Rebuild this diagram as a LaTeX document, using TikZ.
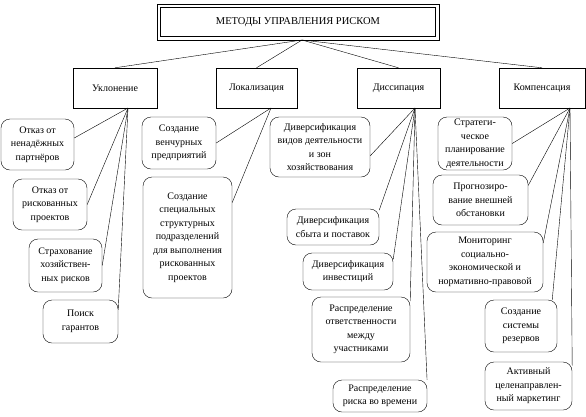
\documentclass[tikz,border=0pt]{standalone}
\usepackage{fontspec}
\setmainfont{Liberation Serif}
\begin{document}
\begin{tikzpicture}[x=1pt,y=-1pt,font=\fontsize{10}{13.5}\selectfont,
    groupbox/.style={draw,align=center,inner sep=0pt,minimum height=40pt},
    leafbox/.style={draw,rounded corners=9pt,align=center,inner sep=0pt}]
    \useasboundingbox (0,0) rectangle (586,416);
    % Title
    \node[draw,minimum width=275pt,minimum height=29pt,font=\fontsize{10.5}{13.5}\selectfont](title) at (298,22) {МЕТОДЫ УПРАВЛЕНИЯ РИСКОМ};
    \draw([shift={(-3.5pt,3.5pt)}]title.north west) rectangle ([shift={(3.5pt,-3.5pt)}]title.south east);
    % Methods
    \node[groupbox,minimum width=84pt](ukl) at (115,88) {Уклонение};
    \node[groupbox,minimum width=81pt](lok) at (256.5,88) {Локализация};
    \node[groupbox,minimum width=83pt](dis) at (398.5,88) {Диссипация};
    \node[groupbox,minimum width=86pt](komp) at (542,88) {Компенсация};
    \coordinate(title-b) at (302,40);
    \draw(title-b)--(ukl.north);
    \draw(title-b)--(lok.north);
    \draw(title-b)--(dis.north);
    \draw(title-b)--(komp.north);
    % Bundle roots
    \coordinate(ukl-b) at (128,108);
    \coordinate(lok-b) at (271,108);
    \coordinate(dis-b) at (415,108);
    \coordinate(komp-b) at (570,108);
    % Avoidance
    \node[leafbox,minimum width=73pt,minimum height=51pt](otk1) at (37.5,144.5) {Отказ от\\ненадёжных\\партнёров};
    \node[leafbox,minimum width=74pt,minimum height=51pt](otk2) at (50,204.5) {Отказ от\\рискованных\\проектов};
    \node[leafbox,minimum width=73pt,minimum height=53pt](strah) at (65.5,265.5) {Страхование\\хозяйствен-\\ных рисков};
    \node[leafbox,minimum width=75pt,minimum height=43pt](poisk) at (80.5,321.5) {Поиск\\гарантов};
    \draw(ukl-b)--(otk1.10);
    \draw(ukl-b)--(otk2.east);
    \draw(ukl-b)--(strah.east);
    \draw(ukl-b)--(poisk.17);
    % Localisation
    \node[leafbox,minimum width=74pt,minimum height=52pt](ven) at (179,143) {Создание\\венчурных\\предприятий};
    \node[leafbox,minimum width=89pt,minimum height=121pt](spec) at (187.5,237.5) {Создание\\специальных\\структурных\\подразделений\\для выполнения\\рискованных\\проектов};
    \draw(lok-b)--(ven.east);
    \draw(lok-b)--(spec.38);
    % Dissipation
    \node[leafbox,minimum width=100pt,minimum height=60pt](div1) at (320,147) {Диверсификация\\видов деятельности\\и зон\\хозяйствования};
    \node[leafbox,minimum width=92pt,minimum height=36pt](div2) at (333,227) {Диверсификация\\сбыта и поставок};
    \node[leafbox,minimum width=90pt,minimum height=37pt](div3) at (348,271.5) {Диверсификация\\инвестиций};
    \node[leafbox,minimum width=98pt,minimum height=65pt](rsp1) at (361,329.5) {Распределение\\ответственности\\между\\участниками};
    \node[leafbox,minimum width=94pt,minimum height=32pt](rsp2) at (380,396) {Распределение\\риска во времени};
    \draw(dis-b)--(div1.-10);
    \draw(dis-b)--(div2.20);
    \draw(dis-b)--(div3.15);
    \draw(dis-b)--(rsp1.30);
    \draw(dis-b)--(rsp2.19);
    % Compensation
    \node[leafbox,minimum width=74pt,minimum height=53pt](strat) at (475,143.5) {Стратеги-\\ческое\\планирование\\деятельности};
    \node[leafbox,minimum width=95pt,minimum height=50pt](prog) at (480.5,200) {Прогнозиро-\\вание внешней\\обстановки};
    \node[leafbox,minimum width=116pt,minimum height=60pt](monit) at (485,262) {Мониторинг\\социально-\\экономической и\\нормативно-правовой};
    \node[leafbox,minimum width=72pt,minimum height=52pt](rez) at (521,326) {Создание\\системы\\резервов};
    \node[leafbox,minimum width=87pt,minimum height=48pt](akt) at (528.5,386) {Активный\\целенаправлен-\\ный маркетинг};
    \draw(komp-b)--(strat.east);
    \draw(komp-b)--(prog.17);
    \draw(komp-b)--(monit.18);
    \draw(komp-b)--(rez.40);
    \draw(komp-b)--(akt.25);
\end{tikzpicture}
\end{document}
